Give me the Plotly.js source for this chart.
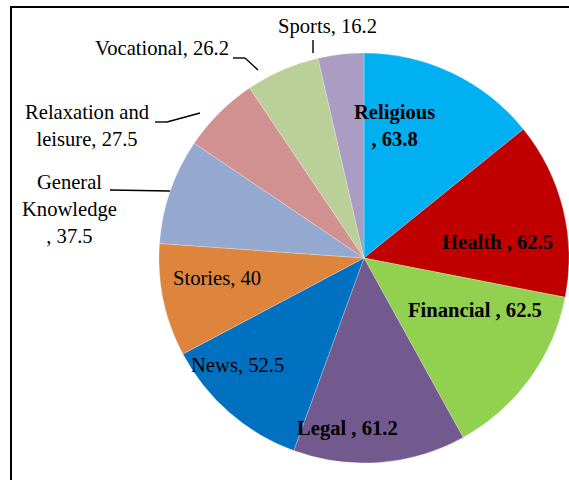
<!DOCTYPE html>
<html>
<head>
<meta charset="utf-8">
<script src="https://cdn.plot.ly/plotly-3.0.1.min.js"></script>
<style>html,body{margin:0;padding:0;background:#fff;}#chart{width:569px;height:480px;}</style>
</head>
<body>
<div id="chart"></div>
<script>
var categories = ["Religious", "Health", "Financial", "Legal", "News", "Stories", "General Knowledge", "Relaxation and leisure", "Vocational", "Sports"];
var values = [63.8, 62.5, 62.5, 61.2, 52.5, 40, 37.5, 27.5, 26.2, 16.2];
var colors = ["#00B0F0", "#C00000", "#92D050", "#725A8F", "#0070C0", "#DD843D", "#95A9D0", "#D19190", "#BBCF98", "#AA9CC3"];

var W = 569, H = 480;
function px(x) { return x / W; }
function py(y) { return 1 - y / H; }

var labelSpecs = [
  {text: "Religious<br>, " + values[0], x: 394, y: 125, bold: true},
  {text: "Health , " + values[1], x: 497, y: 242, bold: true},
  {text: "Financial , " + values[2], x: 475, y: 310, bold: true},
  {text: "Legal , " + values[3], x: 347, y: 428, bold: true},
  {text: "News, " + values[4], x: 237, y: 365, bold: false},
  {text: "Stories, " + values[5], x: 217, y: 278, bold: false},
  {text: "General<br>Knowledge<br>, " + values[6], x: 69, y: 209, bold: false},
  {text: "Relaxation and<br>leisure, " + values[7], x: 87, y: 126, bold: false},
  {text: "Vocational, " + values[8], x: 162, y: 48, bold: false},
  {text: "Sports, " + values[9], x: 327, y: 26, bold: false}
];

var FONT = "Liberation Serif";

var annotations = labelSpecs.map(function (s) {
  return {
    x: px(s.x), y: py(s.y), xref: "paper", yref: "paper",
    xanchor: "center", yanchor: "middle", showarrow: false,
    text: s.text,
    align: "center",
    font: {family: FONT, size: 20.6, color: "#000", weight: s.bold ? "bold" : "normal"}
  };
});

function seg(x0, y0, x1, y1) {
  return {type: "line", xref: "paper", yref: "paper", x0: px(x0), y0: py(y0), x1: px(x1), y1: py(y1),
          line: {color: "#000", width: 1.4}};
}

var shapes = [
  {type: "rect", xref: "paper", yref: "paper", x0: px(11), y0: -0.2, x1: 1.2, y1: py(7),
   line: {color: "#000", width: 2}, layer: "below"},
  seg(313, 40, 313, 53),
  seg(233, 58, 245, 58), seg(245, 58, 258, 70),
  seg(155, 122, 167, 122), seg(167, 122, 200, 113),
  seg(110, 190, 170, 191)
];

var trace = {
  type: "pie",
  labels: categories,
  values: values,
  sort: false,
  direction: "clockwise",
  rotation: 0,
  textinfo: "none",
  hoverinfo: "label+value",
  marker: {colors: colors, line: {color: "rgba(255,255,255,0.4)", width: 0.6}},
  domain: {x: [px(159), 1], y: [py(463), py(53)]},
  showlegend: false
};

Plotly.newPlot("chart", [trace], {
  width: W, height: H,
  margin: {l: 0, r: 0, t: 0, b: 0},
  paper_bgcolor: "#fff",
  font: {family: FONT},
  showlegend: false,
  annotations: annotations,
  shapes: shapes
}, {displayModeBar: false, staticPlot: true});
</script>
</body>
</html>
